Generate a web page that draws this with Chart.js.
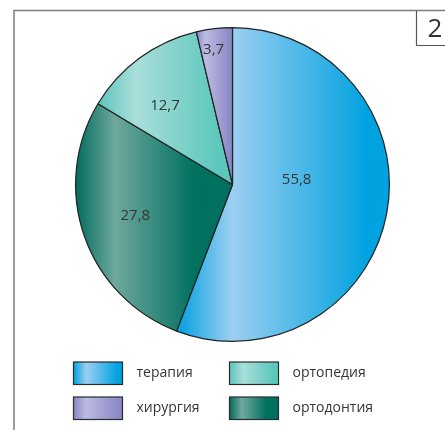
<!DOCTYPE html>
<html>
<head>
<meta charset="utf-8">
<script src="https://cdn.jsdelivr.net/npm/chart.js@4"></script>
<style>
  html, body { margin: 0; padding: 0; background: #fff; }
  #wrap { position: relative; width: 445px; height: 430px; }
  canvas { display: block; }
</style>
</head>
<body>
<div id="wrap"><canvas id="c" width="445" height="430"></canvas></div>
<script>
// Pie slices, clockwise from 12 o'clock
const categories = ['терапия', 'ортодонтия', 'ортопедия', 'хирургия'];
const shares = [55.8, 27.8, 12.7, 3.7];
const valueLabels = ['55,8', '27,8', '12,7', '3,7'];
// Legend reading order (row by row, two columns)
const legendOrder = ['терапия', 'ортопедия', 'хирургия', 'ортодонтия'];
const figureNumber = '2';

// Horizontal "metallic" gradients per category: [offset, colour]
const gradientStops = {
  'терапия':    [[0, '#00a0df'], [0.26, '#9ccff1'], [0.9, '#00a2df'], [1, '#00a2df']],
  'ортодонтия': [[0, '#006c5d'], [0.25, '#6ea89e'], [0.76, '#00705f'], [1, '#00705f']],
  'ортопедия':  [[0, '#5bc4bb'], [0.28, '#aadfda'], [0.9, '#5cc7bc'], [1, '#5cc7bc']],
  'хирургия':   [[0, '#8886c3'], [0.25, '#bcbbe2'], [0.95, '#8a88c5'], [1, '#8a88c5']]
};

// Label placement relative to each slice: radius fraction and angular shift (deg)
const labelPlacement = [
  { r: 0.41, shift: -15 },
  { r: 0.65, shift: 1.5 },
  { r: 0.66, shift: -4.5 },
  { r: 0.87, shift: -1.3 }
];

const FONT = '"Open Sans", "Noto Sans", sans-serif';
const TEXT = '#353535';

function makeGradient(ctx, name, x0, x1) {
  const g = ctx.createLinearGradient(x0, 0, x1, 0);
  gradientStops[name].forEach(([o, c]) => g.addColorStop(o, c));
  return g;
}

// Fill each arc with a gradient stretched over its own horizontal extent
const arcGradients = {
  id: 'arcGradients',
  beforeDatasetsDraw(chart) {
    const ctx = chart.ctx;
    chart.getDatasetMeta(0).data.forEach((arc, i) => {
      const { x, startAngle, endAngle, outerRadius } =
        arc.getProps(['x', 'startAngle', 'endAngle', 'outerRadius'], true);
      const xs = [x, x + outerRadius * Math.cos(startAngle), x + outerRadius * Math.cos(endAngle)];
      for (let k = -4; k <= 4; k++) {
        const a = k * Math.PI;
        if (a > startAngle && a < endAngle) xs.push(x + outerRadius * Math.cos(a));
      }
      const xmin = Math.min(...xs), xmax = Math.max(...xs);
      arc.options.backgroundColor = makeGradient(ctx, categories[i], xmin, xmax);
    });
  },
  afterDatasetsDraw(chart) {
    const ctx = chart.ctx;
    ctx.save();
    ctx.font = '15px ' + FONT;
    ctx.fillStyle = TEXT;
    ctx.textAlign = 'center';
    ctx.textBaseline = 'middle';
    chart.getDatasetMeta(0).data.forEach((arc, i) => {
      const { x, y, startAngle, endAngle, outerRadius } =
        arc.getProps(['x', 'y', 'startAngle', 'endAngle', 'outerRadius'], true);
      const p = labelPlacement[i];
      const a = (startAngle + endAngle) / 2 + p.shift * Math.PI / 180;
      ctx.fillText(valueLabels[i], x + Math.cos(a) * outerRadius * p.r, y + Math.sin(a) * outerRadius * p.r);
    });
    ctx.restore();
  }
};

// Frame, figure number box and two-column legend
const decorations = {
  id: 'decorations',
  afterDraw(chart) {
    const ctx = chart.ctx;
    ctx.save();
    // frame lines
    ctx.strokeStyle = '#7c7c7c';
    ctx.lineWidth = 1.5;
    ctx.beginPath();
    ctx.moveTo(14, 430);
    ctx.lineTo(14, 10.5);
    ctx.lineTo(445, 10.5);
    ctx.stroke();
    // number box
    ctx.strokeStyle = '#555';
    ctx.lineWidth = 1.2;
    ctx.beginPath();
    ctx.moveTo(416.5, 10.5);
    ctx.lineTo(416.5, 45.5);
    ctx.lineTo(446, 45.5);
    ctx.stroke();
    ctx.fillStyle = '#333';
    ctx.font = '26px ' + FONT;
    ctx.textAlign = 'center';
    ctx.textBaseline = 'alphabetic';
    ctx.fillText(figureNumber, 435, 37);

    // legend
    const colX = [73.5, 229.5];
    const rowY = [362, 397];
    const sw = 49, sh = 22.5;
    ctx.font = '14px ' + FONT;
    ctx.textAlign = 'left';
    ctx.textBaseline = 'middle';
    legendOrder.forEach((name, k) => {
      const sx = colX[k % 2], sy = rowY[Math.floor(k / 2)];
      ctx.fillStyle = makeGradient(ctx, name, sx, sx + sw);
      ctx.fillRect(sx, sy, sw, sh);
      ctx.strokeStyle = '#2a2a2a';
      ctx.lineWidth = 1.2;
      ctx.strokeRect(sx, sy, sw, sh);
      ctx.fillStyle = TEXT;
      ctx.fillText(name, sx + 63, sy + sh / 2);
    });
    ctx.restore();
  }
};

new Chart(document.getElementById('c'), {
  type: 'pie',
  data: {
    labels: categories,
    datasets: [{
      data: shares,
      backgroundColor: (c) => '#cccccc',
      borderColor: '#222',
      borderWidth: 1.2,
      hoverOffset: 0
    }]
  },
  options: {
    responsive: false,
    animation: false,
    events: [],
    layout: { padding: { left: 75, right: 55, top: 27, bottom: 88 } },
    plugins: {
      legend: { display: false },
      tooltip: { enabled: false }
    }
  },
  plugins: [arcGradients, decorations]
});
</script>
</body>
</html>
